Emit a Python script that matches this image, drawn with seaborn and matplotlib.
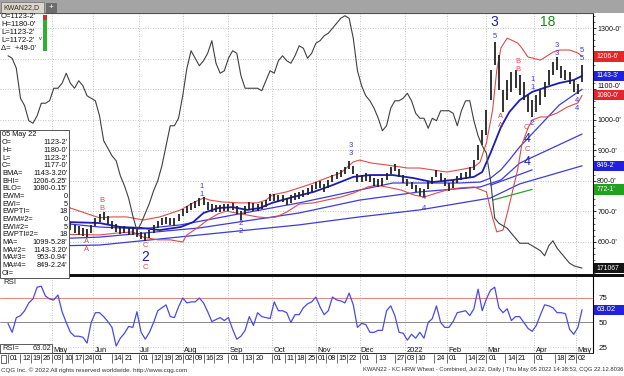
import numpy as np
import pandas as pd
import matplotlib
matplotlib.use("Agg")
import matplotlib.pyplot as plt
import matplotlib.transforms as mtransforms
from matplotlib.patches import Rectangle
from matplotlib.ticker import MultipleLocator
import seaborn as sns

sns.set_theme(style="white")
plt.rcParams['font.family'] = ['Liberation Sans', 'DejaVu Sans']

# ---------------- data ----------------
START = "2021-04-01"
HOLIDAYS = ["2021-04-02", "2021-05-31", "2021-07-05", "2021-09-06", "2021-11-25",
            "2021-12-24", "2022-01-17", "2022-02-21", "2022-04-15"]

# daily bars, one every second session from START (cents/bushel)
bar_low = [600, 605, 615, 622, 630, 640, 650, 660, 670, 685,
           700, 705, 690, 670, 655, 639, 630, 623, 620, 616,
           630, 652, 665, 672, 659, 643, 633, 626, 630, 623,
           623, 616, 610, 604, 613, 630, 646, 656, 659, 656,
           652, 669, 685, 695, 705, 711, 718, 721, 705, 698,
           698, 698, 701, 701, 705, 692, 672, 692, 705, 701,
           701, 708, 714, 734, 734, 731, 731, 721, 728, 737,
           741, 747, 754, 764, 773, 777, 764, 777, 796, 806,
           813, 822, 839, 822, 796, 796, 799, 796, 783, 780,
           783, 803, 822, 832, 813, 793, 783, 773, 764, 751,
           747, 773, 790, 813, 799, 783, 767, 777, 793, 803,
           806, 813, 836, 868, 917, 950, 1064, 1179, 1097, 1025,
           1064, 1090, 1104, 1081, 1064, 1025, 1009, 1025, 1048, 1074,
           1114, 1146, 1163, 1136, 1130, 1117, 1090, 1084, 1123]
bar_high = [618, 625, 632, 640, 652, 660, 668, 680, 695, 712,
            725, 735, 720, 700, 680, 665, 656, 653, 646, 643,
            656, 678, 691, 698, 685, 669, 659, 653, 653, 646,
            649, 643, 633, 630, 639, 656, 669, 679, 682, 679,
            679, 691, 708, 718, 728, 734, 744, 747, 731, 724,
            721, 721, 724, 724, 728, 718, 701, 718, 731, 728,
            724, 731, 737, 757, 757, 754, 754, 744, 754, 760,
            764, 770, 777, 786, 796, 799, 790, 803, 819, 829,
            836, 845, 865, 849, 822, 819, 826, 819, 809, 806,
            809, 826, 845, 855, 839, 819, 806, 796, 786, 777,
            773, 799, 813, 836, 826, 809, 793, 803, 816, 826,
            829, 845, 868, 917, 966, 1032, 1163, 1254, 1212, 1097,
            1130, 1156, 1163, 1146, 1123, 1081, 1064, 1081, 1097, 1123,
            1163, 1189, 1205, 1175, 1163, 1156, 1130, 1117, 1180]

# open interest (thousand contracts), same sessions as the bars
oi_k = [256, 255, 251, 239, 236, 230, 229, 232, 237, 237,
        238, 243, 243, 245, 249, 245, 243, 246, 244, 240,
        239, 238, 232, 222, 219, 216, 214, 208, 204, 199,
        192, 186, 189, 193, 197, 202, 206, 212, 220, 228,
        228, 231, 240, 251, 258, 255, 252, 254, 257, 262,
        253, 249, 250, 255, 258, 257, 248, 243, 243, 243,
        243, 242, 246, 250, 249, 254, 256, 254, 253, 256,
        260, 259, 255, 257, 261, 262, 264, 265, 267, 269,
        271, 272, 271, 263, 250, 244, 240, 238, 235, 231,
        226, 228, 235, 238, 238, 239, 241, 238, 233, 231,
        231, 227, 231, 230, 234, 234, 234, 233, 228, 234,
        238, 238, 230, 224, 220, 217, 206, 191, 189, 188,
        187, 185, 183, 181, 181, 181, 180, 179, 178, 176,
        180, 182, 179, 177, 175, 173, 172, 171.5, 171.067]

# RSI, same sessions as the bars
rsi = [49, 40, 55, 57, 62, 70, 74, 86, 87, 77,
       74, 73, 78, 61, 50, 40, 36, 36, 35, 29,
       50, 60, 60, 56, 51, 45, 26, 34, 39, 46,
       45, 61, 40, 33, 40, 50, 62, 65, 68, 56,
       55, 66, 75, 70, 71, 71, 75, 70, 61, 51,
       53, 55, 52, 55, 43, 33, 36, 42, 56, 47,
       60, 56, 55, 54, 71, 62, 62, 60, 50, 58,
       58, 65, 69, 71, 76, 66, 58, 62, 76, 73,
       72, 70, 80, 68, 45, 49, 48, 40, 40, 42,
       42, 62, 67, 57, 40, 39, 32, 38, 34, 40,
       34, 50, 54, 67, 50, 45, 45, 51, 60, 61,
       62, 57, 64, 84, 62, 74, 83, 86, 65, 60,
       64, 52, 56, 56, 50, 44, 41, 47, 58, 68,
       67, 65, 60, 60, 59, 43, 38, 45, 63.02]

# Bollinger upper / lower / mid (session, value)
bhi_s = [0, 10, 20, 28, 30, 44, 50, 57, 65, 73, 83, 89, 94, 97, 103, 111, 120, 124, 127, 134,
         140, 147, 153, 160, 166, 169, 175, 182, 192, 198, 204, 211, 217, 224, 227, 230, 233, 235,
         237, 240, 245, 247, 250, 252, 256, 262, 265, 270, 274, 276]
bhi_v = [690, 740, 765, 730, 711, 679, 682, 682, 672, 682, 705, 728, 744, 737, 731, 728, 728, 737, 754, 764,
         777, 793, 809, 826, 862, 868, 858, 852, 842, 842, 836, 829, 836, 845, 862, 924, 1032, 1163,
         1235, 1267, 1251, 1235, 1205, 1202, 1195, 1221, 1228, 1228, 1218, 1206.78]
blo_s = [0, 10, 20, 28, 44, 52, 60, 65, 72, 78, 84, 86, 91, 96, 101, 105, 112, 120, 125, 129,
         134, 140, 147, 153, 160, 166, 173, 177, 182, 189, 195, 200, 206, 211, 217, 224, 230, 233,
         235, 238, 241, 245, 247, 250, 252, 256, 259, 264, 269, 274, 276]
blo_v = [600, 590, 610, 625, 623, 629, 633, 616, 607, 607, 600, 623, 646, 672, 692, 701, 692, 682, 679, 682,
         698, 724, 728, 737, 747, 760, 780, 786, 780, 770, 754, 747, 760, 770, 777, 780, 764, 679,
         633, 639, 721, 836, 917, 973, 999, 1009, 1009, 1022, 1042, 1055, 1080.02]
bma_s = [0, 10, 20, 30, 44, 54, 64, 73, 83, 89, 94, 101, 108, 115, 121, 127, 137, 147, 156, 166,
         174, 185, 195, 204, 214, 224, 228, 232, 237, 241, 246, 252, 259, 265, 272, 276]
bma_v = [645, 665, 690, 665, 662, 649, 646, 639, 649, 665, 695, 711, 714, 705, 711, 728, 747, 764, 786, 813,
         819, 819, 809, 796, 803, 813, 829, 891, 976, 1025, 1064, 1091, 1107, 1120, 1130, 1143.4]
# moving averages
ma_s = [0, 20, 28, 44, 64, 83, 108, 140, 169, 185, 200, 217, 227, 232, 237, 241, 246, 256, 265, 276]
ma_v = [640, 660, 660, 649, 643, 656, 688, 728, 770, 793, 793, 793, 796, 809, 836, 868, 911, 983, 1048, 1099.66]
ma3_s = [0, 28, 44, 92, 140, 169, 198, 227, 237, 246, 276]
ma3_v = [605, 612, 616, 646, 695, 737, 764, 780, 803, 858, 953.12]
ma4_s = [0, 28, 44, 92, 140, 169, 198, 232, 246, 276]
ma4_v = [585, 588, 590, 623, 656, 682, 705, 744, 790, 849.28]
# Elliott-wave channel segments
ewb_s = [232, 252]
ewb_v = [786, 836]
ewg_s = [233, 252]
ewg_v = [737, 772.1]

tick_dates = ["2021-04-01", "2021-04-12", "2021-04-19", "2021-04-26", "2021-05-03", "2021-05-10",
              "2021-05-17", "2021-05-24", "2021-06-01", "2021-06-14", "2021-06-21", "2021-07-01",
              "2021-07-12", "2021-07-19", "2021-07-26", "2021-08-02", "2021-08-09", "2021-08-16",
              "2021-08-23", "2021-09-01", "2021-09-13", "2021-09-20", "2021-10-01", "2021-10-11",
              "2021-10-18", "2021-10-25", "2021-11-01", "2021-11-08", "2021-11-15", "2021-11-22",
              "2021-12-01", "2021-12-13", "2021-12-27", "2022-01-03", "2022-01-10", "2022-01-24",
              "2022-02-01", "2022-02-14", "2022-02-22", "2022-03-01", "2022-03-14", "2022-03-21",
              "2022-04-01", "2022-04-18", "2022-04-25", "2022-05-02"]
month_dates = ["2021-05-03", "2021-06-01", "2021-07-01", "2021-08-02", "2021-09-01", "2021-10-01",
               "2021-11-01", "2021-12-01", "2022-01-03", "2022-02-01", "2022-03-01", "2022-04-01",
               "2022-05-02"]
month_names = ["May", "Jun", "Jul", "Aug", "Sep", "Oct", "Nov", "Dec", "2022", "Feb", "Mar", "Apr", "May"]

price_ticks = [600, 700, 800, 900, 1000, 1100, 1200, 1300]
price_tick_labels = ["600-0'", "700-0'", "800-0'", "900-0'", "1000-0'", "", "", "1300-0'"]
crowded_tick = (1100, "1100-0'")       # partly covered by the 1080 box in the original
rsi_ticks = [25, 50, 75]

# wave labels: (text, session, price, colour, size)
BLUE_L = '#3a3ad8'
RED_L = '#e04848'
wave_labels = [
    ("B", 45, 737, RED_L, 5.5), ("B", 45, 711, RED_L, 5.5),
    ("A", 38, 603, RED_L, 5.5), ("A", 38, 574, RED_L, 5.5),
    ("C", 66, 590, RED_L, 5.5), ("2", 66, 551, '#1f1fb0', 10), ("C", 66, 515, RED_L, 5.5),
    ("1", 93, 780, BLUE_L, 5.5), ("1", 93, 754, BLUE_L, 5.5),
    ("2", 112, 662, BLUE_L, 5.5), ("2", 112, 633, BLUE_L, 5.5),
    ("3", 165, 917, BLUE_L, 5.5), ("3", 165, 891, BLUE_L, 5.5),
    ("4", 200, 744, BLUE_L, 5.5), ("4", 200, 711, BLUE_L, 5.5),
    ("3", 234, 1320, '#1f1fb0', 10), ("5", 234, 1271, BLUE_L, 5.5),
    ("A", 237, 1009, RED_L, 5.5), ("A", 237, 980, RED_L, 5.5),
    ("B", 245, 1189, RED_L, 5.5), ("B", 245, 1163, RED_L, 5.5),
    ("C", 249, 976, RED_L, 5.5), ("2", 252, 989, BLUE_L, 5.5),
    ("4", 249.5, 937, '#1f1fb0', 9), ("C", 249.5, 901, RED_L, 5.5), ("4", 249.5, 862, '#1f1fb0', 9),
    ("1", 252, 1130, BLUE_L, 5.5), ("1", 252, 1104, BLUE_L, 5.5),
    ("3", 264, 1244, BLUE_L, 5.5), ("3", 264, 1218, BLUE_L, 5.5),
    ("5", 276, 1228, BLUE_L, 5.5), ("5", 276, 1199, BLUE_L, 5.5),
    ("4", 273.5, 1064, BLUE_L, 5.5), ("4", 273.5, 1038, BLUE_L, 5.5),
    ("18", 259.5, 1320, '#1b8a1b', 10),
]

last_labels = [("1206-6'", 1206.78, '#e3262b'), ("1143-3'", 1143.4, '#2020e0'),
               ("1080-0'", 1080.02, '#e3262b'), ("849-2'", 849.28, '#2020e0'),
               ("772-1'", 772.1, '#22a022')]
oi_last = ("171067", 171.067)
rsi_last = ("63.02", 63.02)

ohlc_lines = ["O=1123-2'", "H=1180-0'", "L=1123-2'", "L=1172-2'", "\u0394=  +49-0'"]
info_rows = [("05 May 22", ""), ("O=", "1123-2'"), ("H=", "1180-0'"), ("L=", "1123-2'"),
             ("C=", "1177-0'"), ("BMA=", "1143-3.20'"), ("BHI=", "1206-6.25'"), ("BLO=", "1080-0.15'"),
             ("EWM=", "0"), ("EWI=", "5"), ("EWPTI=", "18"), ("EWM#2=", "0"), ("EWI#2=", "5"),
             ("EWPTI#2=", "18"), ("MA=", "1099-5.28'"), ("MA#2=", "1143-3.20'"), ("MA#3=", "953-0.94'"),
             ("MA#4=", "849-2.24'"), ("OI=", "")]

footer_left = "CQG Inc. \u00a9 2022 All rights reserved worldwide. http://www.cqg.com"
footer_right = "KWAN22 - KC HRW Wheat - Combined, Jul 22, Daily | Thu May 05 2022 14:38:53, CQG 22.12.8036"


def session(d):
    return int(np.busday_count(START, d, holidays=HOLIDAYS))


# ---------------- layout ----------------
W, H = 624, 376
fig = plt.figure(figsize=(W / 100, H / 100), dpi=100)
fig.patch.set_facecolor('white')


def fx(p):
    return p / W


def fy(p):
    return 1 - p / H


def fig_rect(x0, y0, x1, y1, **kw):
    r = Rectangle((fx(x0), fy(y1)), fx(x1) - fx(x0), fy(y0) - fy(y1),
                  transform=fig.transFigure, **kw)
    fig.add_artist(r)
    return r


PR = 593                       # right edge of plotting area (px)
PX_PER_SESSION = 2.08
X0PX = 8
XL = (-X0PX / PX_PER_SESSION, (PR - X0PX) / PX_PER_SESSION)

bar_s = np.arange(len(bar_low)) * 2
month_s = [session(d) for d in month_dates]
tick_s = [session(d) for d in tick_dates]

DOT = (0, (1, 2))
GRID_C = '#b0b0b0'


def value_box(a, val, txt, col, fs=4.9, half_px=5.2):
    """Coloured last-value box on the right price scale of axes `a`."""
    y0, y1 = a.get_ylim()
    h_px = a.get_position().height * H
    hh = half_px * (y1 - y0) / h_px
    bl = mtransforms.blended_transform_factory(a.transAxes, a.transData)
    a.add_patch(Rectangle((1.0015, val - hh), 31 / PR, 2 * hh, transform=bl, fc=col, ec='none',
                          clip_on=False, zorder=9))
    a.text(1.006, val, txt, transform=bl, ha='left', va='center', color='white',
           fontsize=fs, clip_on=False, zorder=10)


# ---- main price panel ----
ax = fig.add_axes([0, fy(274), fx(PR), (274 - 13) / H])
ax.set_facecolor('white')
ax.set_xlim(XL)
ax.set_ylim(495.3, 1349.1)
for s in month_s:
    ax.axvline(s, color=GRID_C, lw=0.6, ls=DOT, zorder=1)
for v in price_ticks:
    ax.axhline(v, color=GRID_C, lw=0.6, ls=DOT, zorder=1)


def sline(a, s, v, color, lw, z):
    sns.lineplot(x=list(s), y=list(v), ax=a, color=color, lw=lw, estimator=None,
                 sort=False, legend=False, zorder=z)


sline(ax, ma4_s, ma4_v, '#3c3cd8', 0.9, 2)
sline(ax, ma3_s, ma3_v, '#3c3cd8', 0.9, 2)
sline(ax, ma_s, ma_v, '#3c3cd8', 0.9, 2)
sline(ax, ewb_s, ewb_v, '#3c3cd8', 0.9, 2)
sline(ax, ewg_s, ewg_v, '#2ea02e', 0.9, 2)
sline(ax, bhi_s, bhi_v, '#e24a4a', 0.8, 3)
sline(ax, blo_s, blo_v, '#e24a4a', 0.8, 3)
sline(ax, bma_s, bma_v, '#1c1cb4', 1.3, 3)
ax.vlines(bar_s, bar_low, bar_high, color='#222222', lw=1.3, zorder=4)

for txt, s, v, c, fs in wave_labels:
    ax.text(s, v, txt, color=c, fontsize=fs, ha='center', va='center', zorder=6)

ax.set_xlabel('')
ax.set_ylabel('')
ax.set_xticks([])
ax.set_yticks(price_ticks)
ax.set_yticklabels(price_tick_labels)
ax.yaxis.set_minor_locator(MultipleLocator(20))
for sp in ['left', 'bottom']:
    ax.spines[sp].set_visible(False)
ax.spines['right'].set_color('#000000')
ax.spines['right'].set_linewidth(0.8)
ax.spines['top'].set_color('#505050')
ax.spines['top'].set_linewidth(0.8)

ax_oi = ax.twinx()
ax_oi.set_ylim(168.7, 273.1)
sns.lineplot(x=list(bar_s), y=oi_k, ax=ax_oi, color='#404040', lw=0.8, estimator=None,
             sort=False, legend=False, zorder=5)
ax_oi.axis('off')

ax.yaxis.tick_right()
ax.tick_params(axis='y', which='major', direction='out', length=2, width=0.6, pad=1,
               labelsize=5.1, colors='#111111', right=True, left=False)
ax.tick_params(axis='y', which='minor', direction='out', length=1.5, width=0.5, right=True, left=False)

# the 1100 scale label sits just above the 1080 box (nudged up a little)
nudge = mtransforms.ScaledTranslation(0, 3 / 100, fig.dpi_scale_trans)
blend_main = mtransforms.blended_transform_factory(ax.transAxes, ax.transData)
ax.text(1.0071, crowded_tick[0], crowded_tick[1], transform=blend_main + nudge, ha='left',
        va='center', fontsize=5.1, color='#111111', clip_on=False, zorder=8)

for txt, val, col in last_labels:
    value_box(ax, val, txt, col)
value_box(ax_oi, oi_last[1], oi_last[0], '#151515')

# separator
fig_rect(0, 274, PR + 31, 276.5, fc='#101010', ec='none', zorder=8)

# ---- RSI panel ----
ax_r = fig.add_axes([0, fy(353), fx(PR), (353 - 276.5) / H])
ax_r.set_facecolor('white')
ax_r.set_xlim(XL)
ax_r.set_ylim(18.9, 96.9)
for s in month_s:
    ax_r.axvline(s, color=GRID_C, lw=0.6, ls=DOT, zorder=1)
ax_r.axhline(75, color='#e07070', lw=0.6, zorder=1)
ax_r.axhline(50, color='#8a8a8a', lw=0.7, zorder=1)
ax_r.axhline(25, color='#c4c4c4', lw=0.6, ls=DOT, zorder=1)
sns.lineplot(x=list(bar_s), y=rsi, ax=ax_r, color='#4a4ae8', lw=0.9, estimator=None,
             sort=False, legend=False, zorder=3)
ax_r.set_xlabel('')
ax_r.set_ylabel('')
ax_r.set_xticks([])
ax_r.yaxis.tick_right()
ax_r.set_yticks(rsi_ticks)
ax_r.set_yticklabels([str(v) for v in rsi_ticks])
ax_r.tick_params(axis='y', length=0, pad=4, labelsize=5.8, colors='#111111', right=True, left=False)
for sp in ['left', 'bottom', 'top']:
    ax_r.spines[sp].set_visible(False)
ax_r.spines['right'].set_color('#000000')
ax_r.spines['right'].set_linewidth(0.8)
ax_r.text(0.006, 0.92, "RSI", transform=ax_r.transAxes, fontsize=5.6, ha='left', va='center')
for s, name in zip(month_s, month_names):
    ax_r.text(s + 0.6, 21.2, name, fontsize=5.4, ha='left', va='center', color='#111111')
value_box(ax_r, rsi_last[1], rsi_last[0], '#2020e0', fs=5.6)

fig_rect(0.3, 344, 52, 353, fc='white', ec='#404040', lw=0.6, zorder=12)
fig.text(fx(2), fy(348.5), "RSI=", fontsize=5.4, ha='left', va='center', zorder=13)
fig.text(fx(51), fy(348.5), "63.02", fontsize=5.4, ha='right', va='center', zorder=13)

# ---- date strip ----
ax_d = fig.add_axes([0, fy(364), fx(PR), (364 - 353) / H])
ax_d.set_facecolor('white')
ax_d.set_xlim(XL)
ax_d.set_ylim(0, 1)
ax_d.vlines(tick_s, 0.08, 0.92, color='#555555', lw=0.6)
for s, d in zip(tick_s, tick_dates):
    ax_d.text(s + 0.9, 0.5, d[-2:], fontsize=5.4, ha='left', va='center', color='#111111')
ax_d.set_xticks([])
ax_d.set_yticks([])
for sp in ['left', 'bottom', 'right']:
    ax_d.spines[sp].set_visible(False)
ax_d.spines['top'].set_color('#303030')
ax_d.spines['top'].set_linewidth(0.7)
fig_rect(1, 354.5, 5.5, 363, fc='white', ec='#505050', lw=0.6, zorder=12)

# ---- footer ----
fig.text(fx(1), fy(370), footer_left, fontsize=4.5, ha='left', va='center', color='#333333')
fig.text(fx(623), fy(370), footer_right, fontsize=4.2, ha='right', va='center', color='#333333')

# ---- tab bar ----
fig_rect(0, 0, W, 12.5, fc='#a4a4a4', ec='none', zorder=8)
fig_rect(1, 1.5, 44, 12.5, fc='#dcd6ca', ec='#7a7a7a', lw=0.6, zorder=9)
fig.text(fx(3.5), fy(7.3), "KWAN22,D", fontsize=5.0, ha='left', va='center', color='#303030', zorder=10)
fig_rect(46, 2.5, 57, 12.5, fc='#6c6c6c', ec='none', zorder=9)
fig.text(fx(51.5), fy(7.5), "+", fontsize=6, ha='center', va='center', color='white', zorder=10)

# ---- OHLC header ----
for i, line in enumerate(ohlc_lines):
    fig.text(fx(1), fy(17 + i * 7.9), line, fontsize=5.5, ha='left', va='center', color='#111111', zorder=10)
fig_rect(43, 15, 46.5, 20, fc='#d03030', ec='none', zorder=10)
fig_rect(43, 20, 46.5, 51, fc='#30b030', ec='none', zorder=10)
fig.text(fx(40.5), fy(39), "v", fontsize=4, ha='center', va='center', color='#333333', zorder=10)

# ---- info box ----
fig_rect(0.3, 130, 69, 278, fc='white', ec='#555555', lw=0.7, zorder=12)
for i, (lab, val) in enumerate(info_rows):
    yy = fy(135 + i * 7.67)
    fig.text(fx(2), yy, lab, fontsize=5.3, ha='left', va='center', color='#111111', zorder=13)
    if val:
        fig.text(fx(67.5), yy, val, fontsize=5.3, ha='right', va='center', color='#111111', zorder=13)

fig.savefig("out.png", dpi=100, facecolor='white')
